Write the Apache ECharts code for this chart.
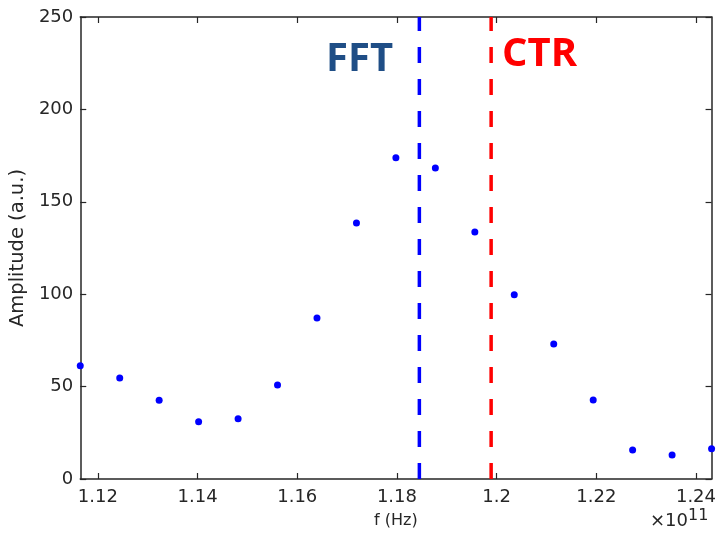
<!DOCTYPE html>
<html><head><meta charset="utf-8">
<script src="https://cdn.jsdelivr.net/npm/echarts@6/dist/echarts.min.js"></script>
<style>html,body{margin:0;padding:0;background:#fff}#c{width:719px;height:535px}</style>
</head><body><div id="c"></div>
<script>
// frequencies in units of 1e11 Hz
const freq = [1.11646,1.12438,1.13229,1.14021,1.14813,1.15604,1.16396,1.17188,1.17979,1.18771,1.19563,1.20354,1.21146,1.21938,1.22729,1.23521,1.24313];
const amplitude = [61.3,54.7,42.6,31.0,32.6,50.9,87.1,138.5,173.9,168.3,133.7,99.7,73.0,42.7,15.7,13.0,16.4];
const xTicks = [1.12,1.14,1.16,1.18,1.2,1.22,1.24];
const xTickLabels = ['1.12','1.14','1.16','1.18','1.2','1.22','1.24'];
const yRange = [0,250];
const fftLine = 1.1845;
const ctrLine = 1.1989;

const xMin = freq[0], xMax = freq[freq.length-1];
const axisColor = '#262626';
const chart = echarts.init(document.getElementById('c'));
const baseX = {
  type:'value', min:xMin, max:xMax,
  axisLine:{show:true,onZero:false,lineStyle:{color:axisColor,width:1.5}},
  splitLine:{show:false},
};
chart.setOption({
  animation:false,
  grid:{left:80,right:6,top:17,bottom:56,containLabel:false},
  xAxis:[
    Object.assign({}, baseX, {
      position:'bottom',
      name:'f (Hz)', nameLocation:'middle', nameGap:34,
      nameTextStyle:{color:axisColor,fontSize:16,fontFamily:'DejaVu Sans'},
      axisTick:{show:true,inside:true,length:6,customValues:xTicks,lineStyle:{color:axisColor,width:1.2}},
      axisLabel:{show:true,customValues:xTicks,formatter:v=>xTickLabels[xTicks.findIndex(t=>Math.abs(t-v)<1e-9)]||'',color:axisColor,fontSize:18,fontFamily:'DejaVu Sans',margin:9}
    }),
    Object.assign({}, baseX, {
      position:'top',
      axisTick:{show:true,inside:true,length:6,customValues:xTicks,lineStyle:{color:axisColor,width:1.2}},
      axisLabel:{show:false}
    })
  ],
  yAxis:[
    {type:'value',min:yRange[0],max:yRange[1],interval:50,position:'left',
     name:'Amplitude (a.u.)',nameLocation:'middle',nameGap:48,nameRotate:90,
     nameTextStyle:{color:axisColor,fontSize:19.5,fontFamily:'DejaVu Sans'},
     axisLine:{show:true,lineStyle:{color:axisColor,width:1.5}},
     axisTick:{show:true,inside:true,length:6,lineStyle:{color:axisColor,width:1.2}},
     axisLabel:{color:axisColor,fontSize:18,fontFamily:'DejaVu Sans',margin:7},
     splitLine:{show:false}},
    {type:'value',min:yRange[0],max:yRange[1],interval:50,position:'right',
     axisLine:{show:true,lineStyle:{color:axisColor,width:1.5}},
     axisTick:{show:true,inside:true,length:6,lineStyle:{color:axisColor,width:1.2}},
     axisLabel:{show:false},splitLine:{show:false}}
  ],
  series:[
    {type:'line',xAxisIndex:0,yAxisIndex:0,data:[[fftLine,yRange[0]],[fftLine,yRange[1]]],
     symbol:'none',lineStyle:{color:'#0000ff',width:3.5,type:[16,16]},z:3},
    {type:'line',xAxisIndex:0,yAxisIndex:0,data:[[ctrLine,yRange[0]],[ctrLine,yRange[1]]],
     symbol:'none',lineStyle:{color:'#ff0000',width:3.5,type:[16,16]},z:3},
    {type:'scatter',xAxisIndex:0,yAxisIndex:0,data:freq.map((f,i)=>[f,amplitude[i]]),
     symbol:'circle',symbolSize:7,itemStyle:{color:'#0000ff',opacity:1},z:5}
  ],
  graphic:[
    {type:'text',left:326,top:40,style:{text:'FFT',fill:'#1f4e86',font:'bold 40px "Open Sans"'}},
    {type:'text',left:502,top:35,style:{text:'CTR',fill:'#ff0000',font:'bold 40px "Open Sans"'}},
    {type:'text',left:650,top:508,style:{text:'×10{s|11}',rich:{s:{fontSize:16,verticalAlign:'top',padding:[0,0,10,0],fill:axisColor,fontFamily:'DejaVu Sans'}},fill:axisColor,font:'18px "DejaVu Sans"'}}
  ]
});
</script></body></html>
